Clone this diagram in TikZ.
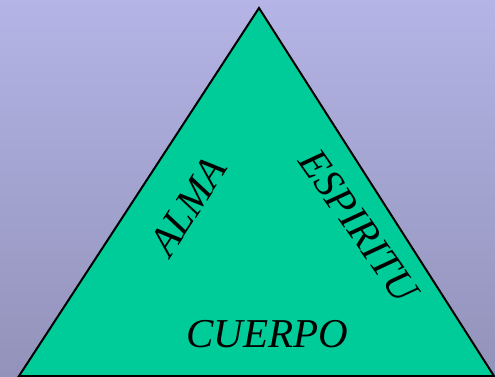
\documentclass[tikz,border=0pt]{standalone}
\usepackage{fontspec}
\setmainfont{Liberation Serif}
\definecolor{bgtop}{RGB}{180,180,230}
\definecolor{bgbottom}{RGB}{146,146,186}
\definecolor{tri}{RGB}{0,204,153}
\begin{document}
\begin{tikzpicture}[x=1pt,y=-1pt,label/.style={font=\fontsize{41}{41}\selectfont\itshape,inner sep=0pt}]

\shade[top color=bgtop,bottom color=bgbottom] (0,0) rectangle (495,377);
\useasboundingbox (0,0) rectangle (495,377);

\coordinate (T) at (259,8);
\coordinate (L) at (19,376);
\coordinate (R) at (494,376);

\filldraw[fill=tri,draw=black,line width=2pt,line join=miter] (T) -- (L) -- (R) -- cycle;

\node[label,rotate=57] (alma) at (188,206) {ALMA};
\node[label,rotate=-55] (espiritu) at (359,226) {ESPIRITU};
\node[label] (cuerpo) at (267,334) {CUERPO};
\end{tikzpicture}
\end{document}
